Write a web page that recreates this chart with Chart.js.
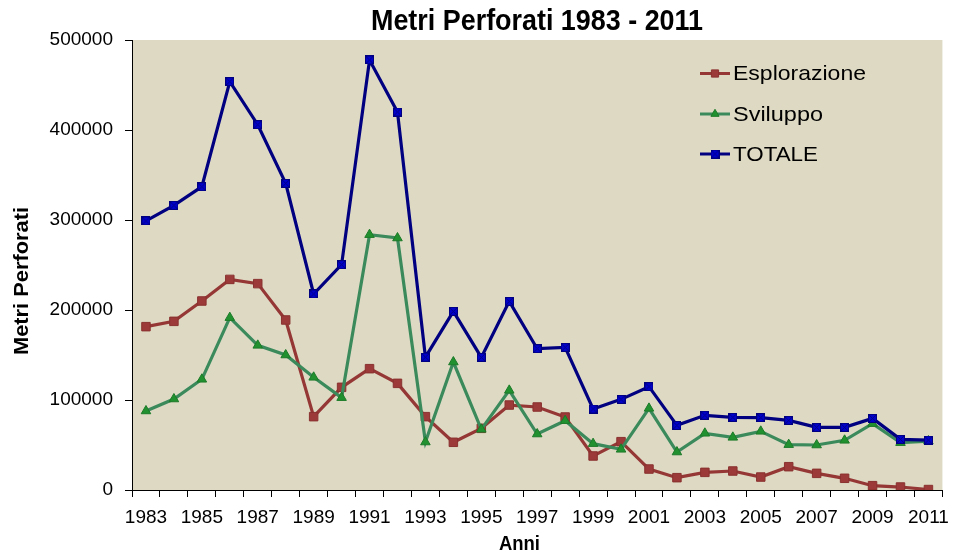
<!DOCTYPE html>
<html><head><meta charset="utf-8">
<script src="https://cdn.jsdelivr.net/npm/chart.js@4/dist/chart.umd.min.js"></script>
<style>html,body{margin:0;padding:0;background:#fff;}canvas{display:block;}</style>
</head><body>
<canvas id="c" width="958" height="554"></canvas>
<script>
const years = ['1983','1984','1985','1986','1987','1988','1989','1990','1991','1992','1993','1994','1995','1996','1997','1998','1999','2000','2001','2002','2003','2004','2005','2006','2007','2008','2009','2010','2011'];
const esplorazione = [181500,187400,210000,234000,229300,188900,81500,114100,134800,118500,81500,53000,68500,94400,92200,81100,37800,53700,23300,13700,19600,21100,14400,25900,18500,13000,4800,3300,500];
const sviluppo = [87800,101100,123000,191500,160700,150000,125200,102600,283700,280000,53300,142200,67400,110700,62200,77000,51500,45200,90700,42200,63000,58500,65200,50400,50000,55200,73700,52600,54400];
const totale = [299000,316300,337000,453700,405900,340700,217800,250400,477800,420000,147600,198500,147400,209600,157000,158500,90000,100700,114800,71800,83000,80700,80400,77400,69600,69600,79600,56300,55500];
const yTicks = [0,100000,200000,300000,400000,500000];

const SANS = "'Liberation Sans', Arial, sans-serif";

function makeTotMarker(){
  const c = document.createElement('canvas');
  c.width = 9; c.height = 9;
  const g = c.getContext('2d');
  g.fillStyle = '#0000CC';
  g.fillRect(0,0,9,9);
  g.strokeStyle = '#000080';
  g.lineWidth = 1;
  g.strokeRect(0.5,0.5,8,8);
  g.beginPath();
  g.moveTo(1,1); g.lineTo(8,8);
  g.moveTo(8,1); g.lineTo(1,8);
  g.stroke();
  return c;
}
const totMarker = makeTotMarker();

const series = [
  {label:'Esplorazione', data:esplorazione, line:'#953735', fill:'#9B3A38', stroke:'#8A3230', style:'rect', r:6, order:3},
  {label:'Sviluppo', data:sviluppo, line:'#3A8A5C', fill:'#21912F', stroke:'#1C7A28', style:'triangle', r:5.5, order:2},
  {label:'TOTALE', data:totale, line:'#000080', fill:'#0000CC', stroke:'#000080', style:totMarker, r:5, order:1}
];

function stretchedText(ctx, text, x, y, font, targetW, rot){
  ctx.save();
  ctx.font = font;
  ctx.fillStyle = '#000';
  ctx.textAlign = 'center';
  ctx.textBaseline = 'middle';
  const w = ctx.measureText(text).width;
  ctx.translate(x, y);
  if (rot) ctx.rotate(rot);
  ctx.scale(targetW / w, 1);
  ctx.fillText(text, 0, 0);
  ctx.restore();
}

const decoPlugin = {
  id:'deco',
  beforeDraw(chart){
    const {ctx, chartArea:a} = chart;
    ctx.save();
    ctx.fillStyle = '#DDD9C3';
    ctx.fillRect(a.left, a.top, a.right-a.left, a.bottom-a.top);
    ctx.restore();
  },
  afterDraw(chart){
    const ctx = chart.ctx;
    stretchedText(ctx, 'Metri Perforati 1983 - 2011', 537, 22, 'bold 30px ' + SANS, 332, 0);
    stretchedText(ctx, 'Metri Perforati', 22.5, 281, 'bold 21px ' + SANS, 148, -Math.PI/2);
    stretchedText(ctx, 'Anni', 519.5, 544.5, 'bold 21px ' + SANS, 41, 0);
    // legend
    const rows = [73.5, 114, 154];
    chart.data.datasets.forEach((ds, i) => {
      const y = rows[i];
      ctx.save();
      ctx.strokeStyle = ds.borderColor;
      ctx.lineWidth = 3;
      ctx.beginPath();
      ctx.moveTo(700, y); ctx.lineTo(730, y);
      ctx.stroke();
      ctx.fillStyle = ds.pointBackgroundColor;
      ctx.strokeStyle = ds.pointBorderColor;
      ctx.lineWidth = 1;
      Chart.helpers.drawPoint(ctx, {pointStyle: ds.pointStyle, radius: ds.pointRadius * 0.85, rotation: 0, borderWidth: 1}, 715, y);
      ctx.restore();
      ctx.save();
      ctx.font = '21px ' + SANS;
      ctx.fillStyle = '#000';
      ctx.textAlign = 'left';
      ctx.textBaseline = 'middle';
      const w = ctx.measureText(ds.label).width;
      const target = {Esplorazione:133, Sviluppo:90, TOTALE:85}[ds.label] || w;
      ctx.translate(733, y + 1);
      ctx.scale(target / w, 1);
      ctx.fillText(ds.label, 0, 0);
      ctx.restore();
    });
  }
};

new Chart(document.getElementById('c'), {
  type:'line',
  data:{
    labels: years,
    datasets: series.map(s => ({
      label: s.label,
      data: s.data,
      borderColor: s.line,
      backgroundColor: s.fill,
      pointBackgroundColor: s.fill,
      pointBorderColor: s.stroke,
      pointBorderWidth: 1,
      pointStyle: s.style,
      pointRadius: s.r,
      borderWidth: 3.2,
      tension: 0,
      order: s.order
    }))
  },
  options:{
    responsive:false,
    animation:false,
    devicePixelRatio:1,
    layout:{padding:{left:0, right:8, top:40, bottom:0}},
    plugins:{
      legend:{display:false},
      tooltip:{enabled:false},
      title:{display:false}
    },
    scales:{
      x:{
        type:'category',
        offset:true,
        grid:{display:true, offset:true, drawOnChartArea:false, drawTicks:true, tickLength:7, color:'#000', lineWidth:1},
        border:{display:true, color:'#000', width:1},
        ticks:{
          autoSkip:false, maxRotation:0, minRotation:0, padding:9,
          color:'#000', font:{family:SANS, size:19},
          callback:(v, i) => (i % 2 === 0 ? years[i] : '')
        },
        afterFit(scale){ scale.height = 64; }
      },
      y:{
        min:0, max:500000,
        afterBuildTicks(scale){ scale.ticks = yTicks.map(v => ({value:v})); },
        grid:{display:true, drawOnChartArea:false, drawTicks:true, tickLength:7, color:'#000', lineWidth:1},
        border:{display:true, color:'#000', width:1},
        ticks:{color:'#000', padding:12, font:{family:SANS, size:19}, callback:(v) => String(v)},
        afterFit(scale){ scale.width = 132; }
      }
    }
  },
  plugins:[decoPlugin]
});
</script>
</body></html>
